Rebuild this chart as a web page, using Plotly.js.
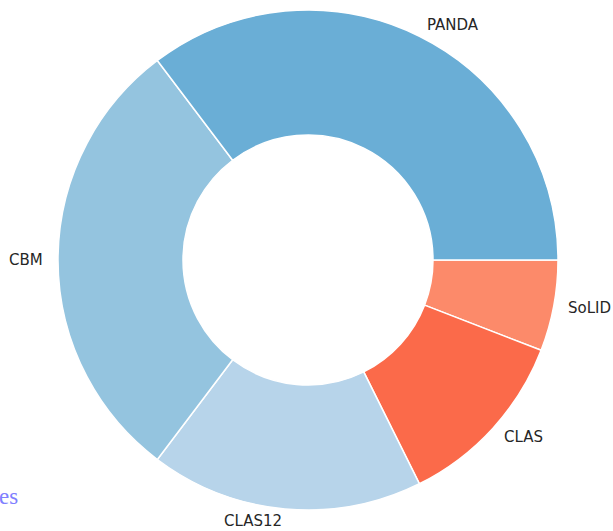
<!DOCTYPE html>
<html>
<head>
<meta charset="utf-8">
<script src="https://cdn.plot.ly/plotly-3.0.1.min.js"></script>
<style>html,body{margin:0;padding:0;background:#fff;}#chart{width:613px;height:531px;}</style>
</head>
<body>
<div id="chart"></div>
<script>
const labels = ["PANDA", "CBM", "CLAS12", "CLAS", "SoLID"];
const values = [6, 5, 3, 2, 1];
const colors = ["#6aaed6", "#94c4df", "#b7d4ea", "#fb6a4a", "#fc8a6a"];

const W = 613, H = 531;
const margin = {l: 58, r: 55, t: 10, b: 21, pad: 0};
const pw = W - margin.l - margin.r, ph = H - margin.t - margin.b;
const labelDist = 1.05;

// label positions computed from data (slices start at 3 o'clock, counterclockwise)
const total = values.reduce((a, b) => a + b, 0);
let cum = 0;
const annotations = [];
values.forEach((v, i) => {
  const mid = (cum + v / 2) / total * 2 * Math.PI;
  cum += v;
  const xr = 0.5 + labelDist * 0.5 * Math.cos(mid);
  const yr = 0.5 + labelDist * 0.5 * Math.sin(mid);
  annotations.push({
    text: labels[i], xref: "paper", yref: "paper", x: xr, y: yr,
    xanchor: Math.cos(mid) >= 0 ? "left" : "right", yanchor: "middle",
    showarrow: false, font: {family: "DejaVu Sans", size: 15, color: "#262626"}
  });
});
// caption fragment at the lower-left edge
annotations.push({
  text: "es", xref: "paper", yref: "paper",
  x: (-3 - margin.l) / pw, y: (H - margin.b - 496) / ph,
  xanchor: "left", yanchor: "middle", showarrow: false,
  font: {family: "Liberation Serif", size: 23, color: "#8080ff"}
});

// Plotly draws clockwise slices in order from the rotation angle; reversing the
// order gives the counterclockwise-from-3-o'clock layout of the reference.
Plotly.newPlot("chart", [{
  type: "pie",
  labels: labels.slice().reverse(),
  values: values.slice().reverse(),
  sort: false,
  direction: "clockwise",
  rotation: 90,
  hole: 0.5,
  textinfo: "none",
  marker: {colors: colors.slice().reverse(), line: {color: "#ffffff", width: 1.5}},
  domain: {x: [0, 1], y: [0, 1]}
}], {
  width: W, height: H,
  margin: margin,
  showlegend: false,
  paper_bgcolor: "#ffffff",
  annotations: annotations
}, {displayModeBar: false, staticPlot: true});
</script>
</body>
</html>
